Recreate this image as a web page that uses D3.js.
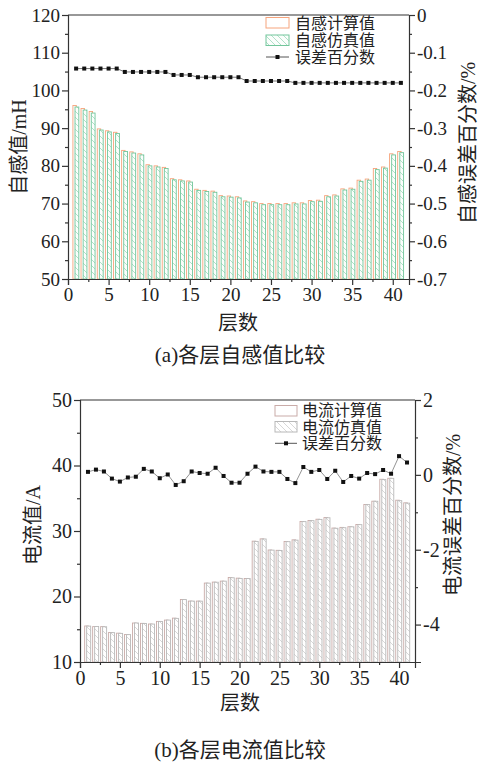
<!DOCTYPE html>
<html>
<head>
<meta charset="utf-8">
<script src="https://cdn.jsdelivr.net/npm/d3@7"></script>
<style>
body { margin: 0; background: #fff; }
text { font-family: "Liberation Serif", "Noto Sans CJK SC", serif; fill: #222; }
.axis path, .axis line { stroke: #333; stroke-width: 1.2; }
</style>
</head>
<body>
<div id="chart"></div>
<script>
const layers = [1, 2, 3, 4, 5, 6, 7, 8, 9, 10, 11, 12, 13, 14, 15, 16, 17, 18, 19, 20, 21,
    22, 23, 24, 25, 26, 27, 28, 29, 30, 31, 32, 33, 34, 35, 36, 37, 38, 39, 40, 41];
const xTicks = [0, 5, 10, 15, 20, 25, 30, 35, 40];

// (a) self inductance
const inductCalc = [96.0, 95.2, 94.4, 89.8, 89.3, 88.9, 84.1, 83.7, 83.2, 80.3, 80.0, 79.6, 76.6, 76.3, 76.0,
    73.8, 73.5, 73.3, 72.1, 72.0, 71.8, 70.7, 70.5, 70.0, 70.0, 70.0, 70.0, 70.2, 70.2, 70.8, 70.9,
    72.1, 72.3, 73.9, 74.1, 76.2, 76.5, 79.3, 79.7, 83.2, 83.8];
const inductSim = [95.6, 94.8, 94.0, 89.5, 89.0, 88.6, 83.8, 83.4, 82.9, 80.0, 79.7, 79.3, 76.3, 76.0, 75.7,
    73.5, 73.2, 73.0, 71.8, 71.7, 71.5, 70.4, 70.2, 69.7, 69.7, 69.7, 69.7, 69.9, 69.9, 70.5, 70.6,
    71.8, 72.0, 73.6, 73.8, 75.9, 76.2, 79.0, 79.4, 82.9, 83.5];
const inductErr = [-0.142, -0.142, -0.142, -0.142, -0.142, -0.142, -0.151, -0.151, -0.151, -0.151, -0.151, -0.151,
    -0.159, -0.159, -0.159, -0.165, -0.165, -0.165, -0.165, -0.165, -0.165, -0.175, -0.175, -0.175, -0.175,
    -0.175, -0.175, -0.180, -0.180, -0.180, -0.180, -0.180, -0.180, -0.180, -0.180, -0.180, -0.180, -0.180,
    -0.180, -0.180, -0.180];
const inductTicks = [50, 60, 70, 80, 90, 100, 110, 120];
const inductErrTicks = [0, -0.1, -0.2, -0.3, -0.4, -0.5, -0.6, -0.7];

// (b) current
const currentCalc = [15.5, 15.4, 15.4, 14.5, 14.4, 14.2, 15.95, 15.9, 15.8, 16.2, 16.4, 16.7, 19.55, 19.3, 19.3,
    22.05, 22.2, 22.35, 22.9, 22.8, 22.75, 28.45, 28.8, 27.1, 27.05, 28.4, 28.65, 31.45, 31.6, 31.8, 32.05,
    30.45, 30.55, 30.65, 31.0, 34.05, 34.55, 37.9, 38.05, 34.7, 34.3];
const currentSim = [15.48, 15.42, 15.38, 14.48, 14.37, 14.18, 15.96, 15.88, 15.79, 16.19, 16.4, 16.66, 19.53, 19.3, 19.29,
    22.04, 22.18, 22.34, 22.86, 22.76, 22.74, 28.41, 28.78, 27.08, 27.03, 28.37, 28.6, 31.43, 31.58, 31.77, 32.02,
    30.42, 30.5, 30.64, 30.97, 34.03, 34.54, 37.85, 38.04, 34.63, 34.25];
const currentErr = [0.08, 0.14, 0.09, -0.10, -0.18, -0.07, -0.05, 0.16, 0.09, -0.09, 0.01, -0.27, -0.17, 0.09,
    0.05, 0.03, 0.19, -0.03, -0.21, -0.21, 0.03, 0.22, 0.09, 0.08, 0.08, -0.11, -0.22, 0.21, 0.08, 0.13,
    -0.11, 0.11, -0.19, -0.03, -0.10, 0.05, 0.02, 0.13, 0.03, 0.50, 0.33];
const currentTicks = [10, 20, 30, 40, 50];
const currentErrTicks = [2, 0, -2, -4];

const svg = d3.select("#chart").append("svg").attr("width", 479).attr("height", 764);
const defs = svg.append("defs");

function hatch(id, color, bg) {
    const p = defs.append("pattern").attr("id", id)
        .attr("patternUnits", "userSpaceOnUse").attr("width", 6).attr("height", 6);
    p.append("rect").attr("width", 6).attr("height", 6).attr("fill", bg);
    p.append("path").attr("d", "M-1,-1 L7,7 M5,-1 L7,1 M-1,5 L1,7")
        .attr("stroke", color).attr("stroke-width", 0.7);
}
hatch("hatchGreen", "#8fd3b1", "#fbfefc");
hatch("hatchGrey", "#c6c6c6", "#fff");

function axisStyle(g, size) {
    g.attr("class", "axis").attr("font-size", size);
}

//graphe a
const a = { left: 68, right: 409, top: 15, bottom: 279 };
const x1 = d3.scaleLinear().domain([0, 42]).range([a.left, a.right]);
const y1 = d3.scaleLinear().domain([50, 120]).range([a.bottom, a.top]);
const e1 = d3.scaleLinear().domain([-0.7, 0]).range([a.bottom, a.top]);

svg.append("g").selectAll("rect").data(layers).enter().append("rect")
    .attr("x", (d) => x1(d) - 3.2)
    .attr("y", (d, i) => y1(inductCalc[i]))
    .attr("width", 3.4)
    .attr("height", (d, i) => y1(50) - y1(inductCalc[i]))
    .attr("fill", "#fff").attr("stroke", "#f6a47c").attr("stroke-width", 0.9);
svg.append("g").selectAll("rect").data(layers).enter().append("rect")
    .attr("x", (d) => x1(d) - 1.1)
    .attr("y", (d, i) => y1(inductSim[i]))
    .attr("width", 3.8)
    .attr("height", (d, i) => y1(50) - y1(inductSim[i]))
    .attr("fill", "url(#hatchGreen)").attr("stroke", "#72c69b").attr("stroke-width", 0.9);

svg.append("path").datum(layers)
    .attr("d", d3.line().x((d) => x1(d)).y((d, i) => e1(inductErr[i])))
    .attr("fill", "none").attr("stroke", "#555").attr("stroke-width", 0.8);
svg.append("g").selectAll("rect").data(layers).enter().append("rect")
    .attr("x", (d) => x1(d) - 2).attr("y", (d, i) => e1(inductErr[i]) - 2)
    .attr("width", 4).attr("height", 4).attr("fill", "#111");

svg.append("g").attr("transform", `translate(0,${a.bottom})`)
    .call(d3.axisBottom(x1).tickValues(xTicks).tickSize(6).tickPadding(3)).call(axisStyle, 19);
svg.append("g").attr("transform", `translate(0,${a.bottom})`)
    .call(d3.axisBottom(x1).tickValues([2.5, 7.5, 12.5, 17.5, 22.5, 27.5, 32.5, 37.5]).tickSize(3).tickFormat(""))
    .call(axisStyle, 19).select(".domain").remove();
svg.append("g").attr("transform", `translate(${a.left},0)`)
    .call(d3.axisLeft(y1).tickValues(inductTicks).tickSize(6).tickPadding(2)).call(axisStyle, 19);
svg.append("g").attr("transform", `translate(${a.left},0)`)
    .call(d3.axisLeft(y1).tickValues([55, 65, 75, 85, 95, 105, 115]).tickSize(3).tickFormat(""))
    .call(axisStyle, 19).select(".domain").remove();
svg.append("g").attr("transform", `translate(${a.right},0)`)
    .call(d3.axisRight(e1).tickValues(inductErrTicks).tickSize(6).tickPadding(2).tickFormat((d) => String(d)))
    .call(axisStyle, 19);
svg.append("g").attr("transform", `translate(${a.right},0)`)
    .call(d3.axisRight(e1).tickValues([-0.05, -0.15, -0.25, -0.35, -0.45, -0.55, -0.65]).tickSize(3).tickFormat(""))
    .call(axisStyle, 19).select(".domain").remove();
svg.append("line").attr("x1", a.left).attr("x2", a.right).attr("y1", a.top).attr("y2", a.top)
    .attr("stroke", "#333").attr("stroke-width", 1.2);

svg.append("text").attr("transform", "translate(19,147) rotate(-90)")
    .attr("text-anchor", "middle").attr("dominant-baseline", "central").attr("font-size", 20).text("自感值/mH");
svg.append("text").attr("transform", "translate(468,143) rotate(-90)")
    .attr("text-anchor", "middle").attr("dominant-baseline", "central").attr("font-size", 20).text("自感误差百分数/%");
svg.append("text").attr("x", 238).attr("y", 323).attr("text-anchor", "middle")
    .attr("dominant-baseline", "central").attr("font-size", 20).text("层数");
svg.append("text").attr("x", 240).attr("y", 355).attr("text-anchor", "middle")
    .attr("dominant-baseline", "central").attr("font-size", 21).text("(a)各层自感值比较");

// legende a
const leg1 = svg.append("g").attr("transform", "translate(266,0)");
leg1.append("rect").attr("x", 0).attr("y", 17.5).attr("width", 23).attr("height", 10.5)
    .attr("fill", "#fff").attr("stroke", "#f6a47c");
leg1.append("rect").attr("x", 0).attr("y", 35).attr("width", 23).attr("height", 10.5)
    .attr("fill", "url(#hatchGreen)").attr("stroke", "#72c69b");
leg1.append("line").attr("x1", 0).attr("x2", 23).attr("y1", 57).attr("y2", 57).attr("stroke", "#555");
leg1.append("rect").attr("x", 9.5).attr("y", 55).attr("width", 4).attr("height", 4).attr("fill", "#111");
leg1.selectAll("text").data(["自感计算值", "自感仿真值", "误差百分数"]).enter().append("text")
    .attr("x", 29).attr("y", (d, i) => 23 + i * 17).attr("dominant-baseline", "central")
    .attr("font-size", 16).text((d) => d);

//graphe b
const b = { left: 80, right: 415, top: 400, bottom: 662 };
const x2 = d3.scaleLinear().domain([0, 42]).range([b.left, b.right]);
const y2 = d3.scaleLinear().domain([10, 50]).range([b.bottom, b.top]);
const e2 = d3.scaleLinear().domain([-5, 2]).range([b.bottom, b.top]);

svg.append("g").selectAll("rect").data(layers).enter().append("rect")
    .attr("x", (d) => x2(d) - 3.3)
    .attr("y", (d, i) => y2(currentCalc[i]))
    .attr("width", 3.6)
    .attr("height", (d, i) => y2(10) - y2(currentCalc[i]))
    .attr("fill", "#fff").attr("stroke", "#c9aba8").attr("stroke-width", 0.9);
svg.append("g").selectAll("rect").data(layers).enter().append("rect")
    .attr("x", (d) => x2(d) - 1.3)
    .attr("y", (d, i) => y2(currentSim[i]))
    .attr("width", 4)
    .attr("height", (d, i) => y2(10) - y2(currentSim[i]))
    .attr("fill", "url(#hatchGrey)").attr("stroke", "#b8b8b8").attr("stroke-width", 0.9);

svg.append("path").datum(layers)
    .attr("d", d3.line().x((d) => x2(d)).y((d, i) => e2(currentErr[i])))
    .attr("fill", "none").attr("stroke", "#777").attr("stroke-width", 0.8);
svg.append("g").selectAll("rect").data(layers).enter().append("rect")
    .attr("x", (d) => x2(d) - 2).attr("y", (d, i) => e2(currentErr[i]) - 2)
    .attr("width", 4).attr("height", 4).attr("fill", "#111");

svg.append("g").attr("transform", `translate(0,${b.bottom})`)
    .call(d3.axisBottom(x2).tickValues(xTicks).tickSize(6).tickPadding(3)).call(axisStyle, 20);
svg.append("g").attr("transform", `translate(0,${b.bottom})`)
    .call(d3.axisBottom(x2).tickValues([2.5, 7.5, 12.5, 17.5, 22.5, 27.5, 32.5, 37.5]).tickSize(3).tickFormat(""))
    .call(axisStyle, 20).select(".domain").remove();
svg.append("g").attr("transform", `translate(${b.left},0)`)
    .call(d3.axisLeft(y2).tickValues(currentTicks).tickSize(6).tickPadding(2)).call(axisStyle, 20);
svg.append("g").attr("transform", `translate(${b.left},0)`)
    .call(d3.axisLeft(y2).tickValues([15, 25, 35, 45]).tickSize(3).tickFormat(""))
    .call(axisStyle, 20).select(".domain").remove();
svg.append("g").attr("transform", `translate(${b.right},0)`)
    .call(d3.axisRight(e2).tickValues(currentErrTicks).tickSize(6).tickPadding(2).tickFormat((d) => String(d)))
    .call(axisStyle, 20);
svg.append("g").attr("transform", `translate(${b.right},0)`)
    .call(d3.axisRight(e2).tickValues([1, -1, -3]).tickSize(3).tickFormat(""))
    .call(axisStyle, 20).select(".domain").remove();
svg.append("line").attr("x1", b.left).attr("x2", b.right).attr("y1", b.top).attr("y2", b.top)
    .attr("stroke", "#333").attr("stroke-width", 1.2);

svg.append("text").attr("transform", "translate(33,525) rotate(-90)")
    .attr("text-anchor", "middle").attr("dominant-baseline", "central").attr("font-size", 20).text("电流值/A");
svg.append("text").attr("transform", "translate(453,515) rotate(-90)")
    .attr("text-anchor", "middle").attr("dominant-baseline", "central").attr("font-size", 20).text("电流误差百分数/%");
svg.append("text").attr("x", 240).attr("y", 703).attr("text-anchor", "middle")
    .attr("dominant-baseline", "central").attr("font-size", 20).text("层数");
svg.append("text").attr("x", 240).attr("y", 750).attr("text-anchor", "middle")
    .attr("dominant-baseline", "central").attr("font-size", 21).text("(b)各层电流值比较");

// legende b
const leg2 = svg.append("g").attr("transform", "translate(275,0)");
leg2.append("rect").attr("x", 0).attr("y", 405.5).attr("width", 22).attr("height", 10.5)
    .attr("fill", "#fff").attr("stroke", "#c9aba8");
leg2.append("rect").attr("x", 0).attr("y", 421.5).attr("width", 22).attr("height", 10.5)
    .attr("fill", "url(#hatchGrey)").attr("stroke", "#b8b8b8");
leg2.append("line").attr("x1", 0).attr("x2", 22).attr("y1", 443.3).attr("y2", 443.3).attr("stroke", "#555");
leg2.append("rect").attr("x", 9).attr("y", 441.3).attr("width", 4).attr("height", 4).attr("fill", "#111");
leg2.selectAll("text").data(["电流计算值", "电流仿真值", "误差百分数"]).enter().append("text")
    .attr("x", 27).attr("y", (d, i) => 410.7 + i * 16.3).attr("dominant-baseline", "central")
    .attr("font-size", 16).text((d) => d);
</script>
</body>
</html>
